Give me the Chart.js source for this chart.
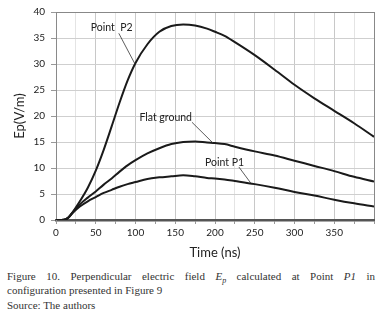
<!DOCTYPE html>
<html>
<head>
<meta charset="utf-8">
<script src="https://cdn.jsdelivr.net/npm/chart.js@4.4.1/dist/chart.umd.min.js"></script>
<style>
  body { margin: 0; background: #fff; }
  #wrap { position: relative; width: 387px; height: 262px; }
  #caption {
    position: absolute; left: 7px; top: 268.5px; width: 368px;
    font-family: "Liberation Serif", "Times New Roman", serif;
    font-size: 11px; line-height: 14.7px; color: #333;
  }
  #caption .just { text-align: justify; text-align-last: justify; }
  #caption sub { font-size: 8px; line-height: 0; vertical-align: baseline; position: relative; top: 3px; }
</style>
</head>
<body>
<div id="wrap"><canvas id="ep"></canvas></div>
<div id="caption">
  <div class="just">Figure 10. Perpendicular electric field <i>E<sub>p</sub></i> calculated at Point <i>P1</i> in</div>
  <div>configuration presented in Figure 9</div>
  <div>Source: The authors</div>
</div>
<script>
// time axis (ns) and the three curves
var times      = [0, 10, 15, 20, 30, 40, 50, 60, 70, 80, 90, 100, 115, 130, 145, 160, 175, 190, 200, 212, 225, 250, 275, 300, 325, 350, 375, 400];
var pointP2    = [0, 0.05, 0.4, 1.3, 3.6, 6.2, 9.5, 13.5, 18.0, 22.6, 26.8, 30.2, 33.8, 36.2, 37.3, 37.6, 37.4, 36.8, 36.2, 35.4, 34.2, 31.7, 28.9, 26.0, 23.4, 21.0, 18.6, 16.0];
var flatGround = [0, 0.05, 0.4, 1.3, 3.0, 4.3, 5.5, 6.8, 8.0, 9.3, 10.5, 11.5, 12.8, 13.8, 14.6, 15.0, 15.1, 14.9, 14.8, 14.6, 14.1, 13.2, 12.4, 11.4, 10.4, 9.4, 8.3, 7.4];
var pointP1    = [0, 0.05, 0.4, 1.2, 2.6, 3.6, 4.4, 5.2, 5.8, 6.4, 6.9, 7.3, 7.9, 8.2, 8.4, 8.6, 8.4, 8.1, 8.0, 7.8, 7.5, 6.9, 6.2, 5.4, 4.7, 3.9, 3.2, 2.6];

// curve labels with their leader lines, in data units (ns, V/m)
var noteTexts = ['Point  P2', 'Flat ground', 'Point P1'];
var noteAt    = [[70, 37.0], [138, 19.6], [212, 11.1]];
var noteFrom  = [[79, 35.9], [171, 18.8], [230, 10.2]];
var noteTo    = [[99, 30.1], [197.5, 14.8], [245, 7.1]];

function pairs(ys) {
  return times.map(function(t, i) { return {x: t, y: ys[i]}; });
}

var curveNotes = {
  id: 'curveNotes',
  afterDatasetsDraw: function(chart) {
    var ctx = chart.ctx, xs = chart.scales.x, ys = chart.scales.y;
    ctx.save();
    ctx.strokeStyle = '#333';
    ctx.lineWidth = 0.8;
    ctx.fillStyle = '#222';
    ctx.font = '10.5px Lato';
    ctx.textAlign = 'center';
    ctx.textBaseline = 'middle';
    noteTexts.forEach(function(txt, i) {
      ctx.beginPath();
      ctx.moveTo(xs.getPixelForValue(noteFrom[i][0]), ys.getPixelForValue(noteFrom[i][1]));
      ctx.lineTo(xs.getPixelForValue(noteTo[i][0]), ys.getPixelForValue(noteTo[i][1]));
      ctx.stroke();
      ctx.fillText(txt, xs.getPixelForValue(noteAt[i][0]), ys.getPixelForValue(noteAt[i][1]));
    });
    ctx.restore();
  }
};

function makeChart() {
  Chart.defaults.font.family = 'Lato';
  Chart.defaults.color = '#222';

  var line = function(ys) {
    return {
      data: pairs(ys),
      borderColor: '#1a1a1a',
      borderWidth: 2,
      pointRadius: 0,
      fill: false,
      cubicInterpolationMode: 'monotone'
    };
  };

  new Chart('ep', {
    type: 'line',
    data: { datasets: [line(pointP2), line(flatGround), line(pointP1)] },
    plugins: [curveNotes],
    options: {
      responsive: true,
      maintainAspectRatio: false,
      animation: false,
      layout: { padding: { left: 0, right: 13, top: 11.5, bottom: 0 } },
      plugins: { legend: { display: false }, tooltip: { enabled: false } },
      scales: {
        x: {
          type: 'linear',
          min: 0, max: 400,
          afterFit: function(s) { s.height = 42; },
          ticks: {
            stepSize: 25,
            autoSkip: false,
            maxRotation: 0,
            padding: 3,
            font: { size: 10 },
            callback: function(v) { return (v % 50 === 0 && v < 400) ? v : ''; }
          },
          grid: {
            tickLength: 4,
            tickColor: '#999',
            color: function(c) {
              if (c.tick.value === 400) return '#888';
              return c.tick.value % 50 === 0 ? '#c8c8c8' : '#e4e4e4';
            }
          },
          border: { color: '#555', width: 2.5 },
          title: {
            display: true,
            text: 'Time (ns)',
            font: { size: 13, lineHeight: 1.2 },
            padding: { top: 0, bottom: 1.6 }
          }
        },
        y: {
          min: 0, max: 40,
          afterFit: function(s) { s.width = 56; },
          ticks: { stepSize: 5, padding: 6, font: { size: 10 } },
          grid: {
            tickLength: 5,
            tickColor: '#999',
            color: function(c) { return c.tick.value === 40 ? '#888' : '#cfcfcf'; }
          },
          border: { color: '#8a8a8a', width: 1 },
          title: {
            display: true,
            text: 'Ep(V/m)',
            font: { size: 13, lineHeight: 1.2 },
            padding: { top: 12.5, bottom: 0 }
          }
        }
      }
    }
  });
}

makeChart();
</script>
</body>
</html>
